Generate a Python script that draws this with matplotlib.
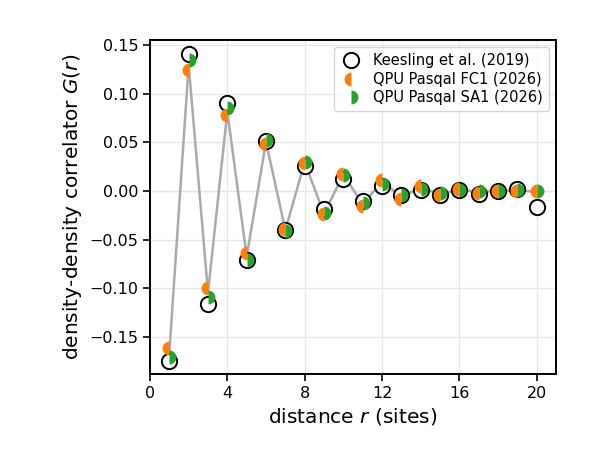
"""Density-density correlator G(r): Keesling et al. vs QPU Pasqal runs."""
import numpy as np
import matplotlib
matplotlib.use("Agg")
import matplotlib.pyplot as plt

# distance in sites
r = np.arange(1, 21)

# Keesling et al. (2019) reference values
g_keesling = [-0.175, 0.141, -0.116, 0.0905, -0.0715, 0.051, -0.040, 0.026, -0.019, 0.012,
              -0.0105, 0.005, -0.004, 0.0015, -0.0045, 0.0012, -0.003, 0.000, 0.0023, -0.016]

# QPU Pasqal FC1 (2026)
g_fc1 = [-0.162, 0.125, -0.100, 0.078, -0.064, 0.0484, -0.039, 0.029, -0.024, 0.018,
         -0.015, 0.0115, -0.008, 0.0047, -0.0045, 0.0023, -0.002, 0.000, -0.0005, -0.0005]

# QPU Pasqal SA1 (2026)
g_sa1 = [-0.171, 0.1347, -0.1095, 0.0857, -0.0708, 0.0525, -0.0415, 0.030, -0.023, 0.0160,
         -0.0125, 0.0075, -0.004, 0.0023, -0.002, 0.0005, 0.000, 0.000, 0.0012, -0.0005]

g_mean = (np.array(g_fc1) + np.array(g_sa1)) / 2

fig = plt.figure(figsize=(6.09, 4.49), dpi=100)
ax = fig.add_axes([150 / 609, 75 / 449, 406 / 609, 334 / 449])

ax.plot(r, g_mean, color="#aaaaaa", lw=1.8, zorder=1)
ax.axhline(0, color="#999999", lw=0.9, ls=":", zorder=0)

ax.plot(r, g_keesling, "o", ms=11, mfc="white", mec="black", mew=1.4,
        label="Keesling et al. (2019)", zorder=2)
ax.plot(r, g_fc1, "o", ms=10, fillstyle="left", color="#ff7f0e", mec="none",
        markerfacecoloralt="none", label="QPU Pasqal FC1 (2026)", zorder=3)
ax.plot(r, g_sa1, "o", ms=10, fillstyle="right", color="#2ca02c", mec="none",
        markerfacecoloralt="none", label="QPU Pasqal SA1 (2026)", zorder=3)

ax.set_xlim(0, 21)
ax.set_ylim(-0.1885, 0.1555)
ax.set_xticks([0, 4, 8, 12, 16, 20])
ax.set_yticks([-0.15, -0.10, -0.05, 0.00, 0.05, 0.10, 0.15])
ax.grid(True, color="#e6e6e6", lw=0.9, zorder=0)
ax.set_axisbelow(True)

for sp in ax.spines.values():
    sp.set_linewidth(1.4)
ax.tick_params(labelsize=11.5, width=1.2, length=5)

ax.set_xlabel("distance $r$ (sites)", fontsize=14.5)
ax.set_ylabel("density-density correlator $G(r)$", fontsize=14.5)

ax.legend(loc="upper right", fontsize=10.5, handletextpad=0.8,
          borderpad=0.4, labelspacing=0.25, handlelength=1.5)

fig.savefig("out.png", dpi=100)
